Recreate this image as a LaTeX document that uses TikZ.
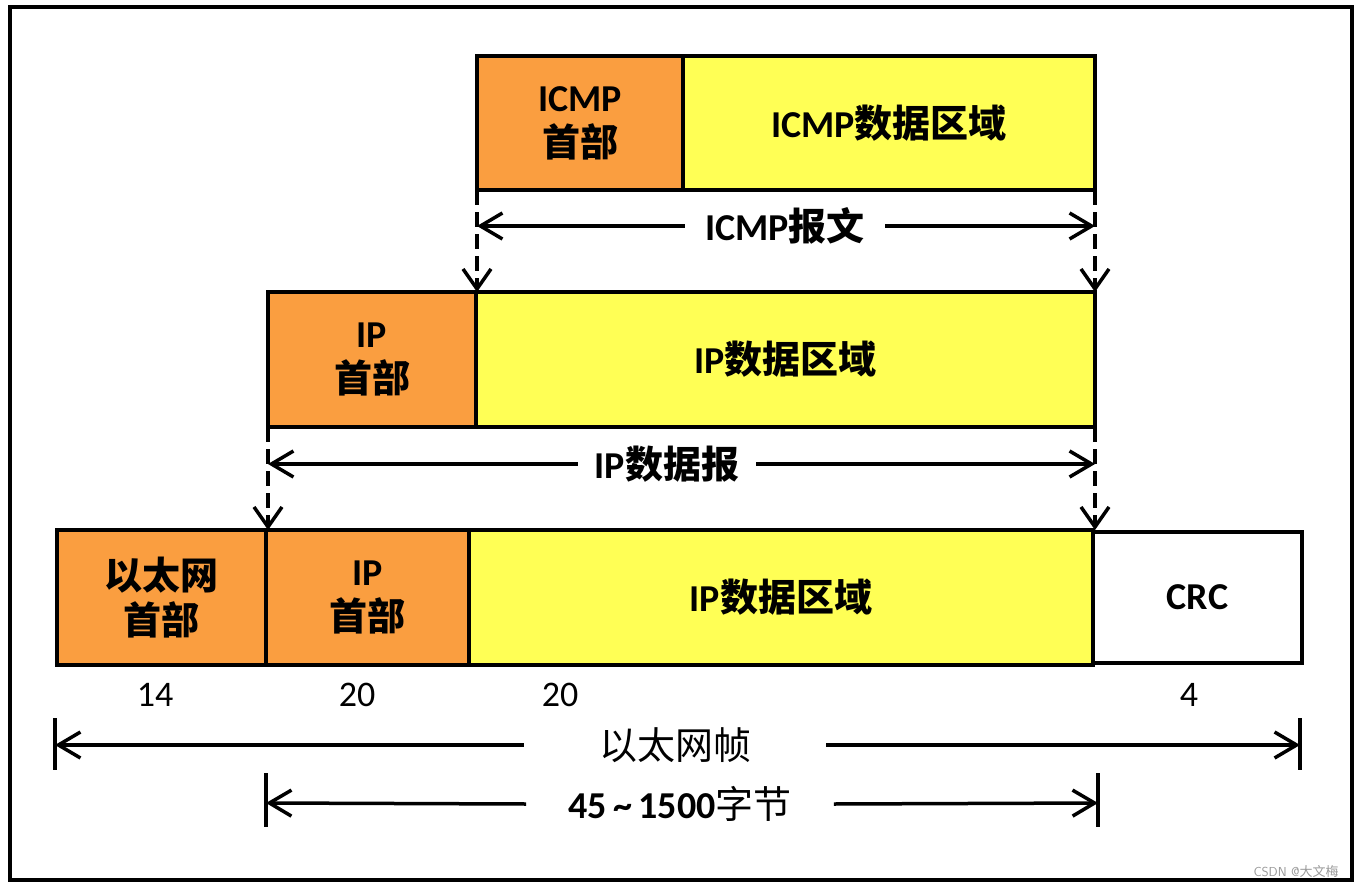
\documentclass[tikz,border=0pt]{standalone}
\usepackage{fontspec}
\setmainfont{Carlito}
\newfontfamily\cjk{Noto Sans CJK SC}
\usetikzlibrary{arrows.meta}
\definecolor{hdrorange}{RGB}{250,158,64}
\definecolor{datayellow}{RGB}{255,255,85}
\newcommand{\zh}[1]{{\cjk #1}}
\begin{document}
\begin{tikzpicture}[x=1pt,y=-1pt,
 box/.style={draw=black,line width=3.5pt,anchor=north west,inner sep=0pt,outer sep=0pt,align=center,font=\bfseries\fontsize{38}{45}\selectfont},
 hdr/.style={box,fill=hdrorange},
 dat/.style={box,fill=datayellow},
 plain/.style={box,fill=white},
 span/.style={line width=3.5pt,-{Straight Barb[length=22pt,width=26pt]}},
 drop/.style={line width=3.5pt,dash pattern=on 15pt off 7pt,-{Straight Barb[length=20pt,width=28pt]}},
 lbl/.style={font=\bfseries\fontsize{38}{45}\selectfont,inner ysep=0pt},
 num/.style={font=\fontsize{36}{40}\selectfont,inner sep=0pt},
 bar/.style={line width=3.5pt}]
\useasboundingbox (0,0) rectangle (1360,888);
\draw[line width=3.5pt] (10,7) rectangle (1352,880);
% row 1
\node[hdr,minimum width=206pt,minimum height=134pt] (ich) at (477,56) {ICMP\\\zh{首部}};
\node[dat,minimum width=412pt,minimum height=134pt] (icd) at (ich.north east) {ICMP\zh{数据区域}};
% row 2
\node[hdr,minimum width=208pt,minimum height=135pt] (iph) at (268,292) {IP\\\zh{首部}};
\node[dat,minimum width=619pt,minimum height=135pt] (ipd) at (iph.north east) {IP\zh{数据区域}};
% row 3
\node[hdr,minimum width=209pt,minimum height=135pt] (eh) at (57,530) {\zh{以太网}\\\zh{首部}};
\node[hdr,minimum width=203pt,minimum height=135pt] (eip) at (eh.north east) {IP\\\zh{首部}};
\node[dat,minimum width=624pt,minimum height=135pt] (ed) at (eip.north east) {IP\zh{数据区域}};
\node[plain,minimum width=209pt,minimum height=131pt] (crc) at (1093,532) {CRC};
% drops
\draw[drop] (ich.south west) -- (ich.south west |- iph.north);
\draw[drop] (icd.south east) -- (icd.south east |- ipd.north);
\draw[drop] (iph.south west) -- (iph.south west |- eh.north);
\draw[drop] (ipd.south east) -- (ipd.south east |- ed.north);
% spans
\node[lbl,inner xsep=20pt] (icmpmsg) at (785,226) {ICMP\zh{报文}};
\draw[span] (icmpmsg.west) -- (ich.south west |- icmpmsg.west);
\draw[span] (icmpmsg.east) -- (icd.south east |- icmpmsg.east);
\node[lbl,inner xsep=17pt] (ipdg) at (667,464) {IP\zh{数据报}};
\draw[span] (ipdg.west) -- (iph.south west |- ipdg.west);
\draw[span] (ipdg.east) -- (ipd.south east |- ipdg.east);
% numbers
\node[num] (n1) at (155,695) {14};
\node[num] (n2) at (357,695) {20};
\node[num] (n3) at (560,695) {20};
\node[num] (n4) at (1189,695) {4};
% ethernet frame span
\coordinate (fl) at (55,745);
\coordinate (fr) at (1300,745);
\draw[bar] (55,718) -- (55,770);
\draw[bar] (1300,718) -- (1300,770);
\node[font=\fontsize{38}{45}\selectfont\cjk,inner ysep=0pt,inner xsep=75pt] (frame) at (675,745) {以太网帧};
\draw[span] (frame.west) -- (fl);
\draw[span] (frame.east) -- (fr);
% payload span
\coordinate (pl) at (266,803);
\coordinate (pr) at (1098,803);
\draw[bar] (266,773) -- (266,827);
\draw[bar] (1098,773) -- (1098,827);
\node[font=\bfseries\fontsize{38}{45}\selectfont,inner ysep=0pt,inner xsep=42pt] (pay) at (680,804) {45\,\textasciitilde\,1500{\mdseries\cjk 字节}};
\draw[span] (pay.west) -- (pl);
\draw[span] (pay.east) -- (pr);
% watermark
\node[font=\fontsize{13}{15}\selectfont\sffamily,text=gray!80,inner sep=0pt] (wm) at (1296,871) {CSDN @\zh{大文梅}};
\end{tikzpicture}
\end{document}
